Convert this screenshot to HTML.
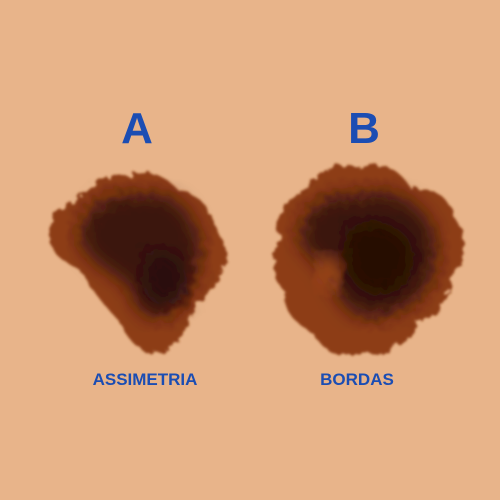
<!DOCTYPE html>
<html><head><meta charset="utf-8"><style>
html,body{margin:0;padding:0;background:#E8B48A;}
svg{display:block}
text{font-family:"Liberation Sans",sans-serif;fill:#1b4db3;font-weight:bold}
</style></head><body>
<svg width="500" height="500" viewBox="0 0 500 500">
<defs>
<filter id="fz" x="-20%" y="-20%" width="140%" height="140%">
<feTurbulence type="fractalNoise" baseFrequency="0.12" numOctaves="2" seed="3" result="n"/>
<feDisplacementMap in="SourceGraphic" in2="n" scale="10"/>
<feGaussianBlur stdDeviation="1.2"/>
</filter>
<filter id="bl"><feGaussianBlur stdDeviation="9"/></filter>
</defs>
<rect width="500" height="500" fill="#E8B48A"/>
<text x="137" y="143" font-size="44" text-anchor="middle">A</text>
<text x="364" y="143" font-size="44" text-anchor="middle">B</text>
<g filter="url(#fz)">
<path d="M50,238 C45,222 62,205 78,200 C90,180 110,172 130,176 C145,168 165,175 178,190 C195,192 210,205 212,222 C222,235 232,255 222,272 C216,290 200,300 192,312 C188,330 175,350 158,352 C140,355 128,340 118,320 C105,305 90,290 82,272 C68,262 48,255 50,238 Z" fill="#8d3d16"/>
<path d="M80,230 C85,205 110,190 135,195 C158,188 182,198 192,220 C205,240 202,265 190,285 C182,305 170,320 155,318 C138,315 132,298 128,285 C115,275 100,268 92,258 C82,250 78,240 80,230 Z" fill="#3a170b" filter="url(#bl)"/>
<path d="M150,250 C165,245 185,255 188,275 C190,295 175,308 160,305 C145,300 140,285 142,270 Z" fill="#2a1008" filter="url(#bl)"/>
</g>
<g filter="url(#fz)">
<path d="M280,238 C272,215 288,195 308,190 C315,170 340,160 360,168 C380,160 402,170 410,188 C430,185 452,198 455,218 C468,235 465,262 452,278 C450,300 435,318 418,322 C410,342 385,358 362,352 C345,360 322,352 315,335 C298,325 280,310 285,292 C272,278 270,255 280,238 Z" fill="#8d3d16"/>
<path d="M300,230 C305,205 330,190 355,195 C380,185 410,195 425,215 C440,235 440,262 428,285 C415,305 395,315 375,318 C355,320 342,305 335,290 C325,275 320,262 310,255 C300,248 298,240 300,230 Z" fill="#3a170b" filter="url(#bl)"/>
<path d="M345,230 C365,215 400,220 412,245 C420,268 405,290 385,295 C365,298 350,285 345,265 Z" fill="#261006" filter="url(#bl)"/>
<path d="M318,255 C330,250 345,262 342,278 C338,292 325,295 316,285 Z" fill="#a14a1c" filter="url(#bl)"/>
</g>
<text x="145" y="385" font-size="17" text-anchor="middle">ASSIMETRIA</text>
<text x="357" y="385" font-size="17" text-anchor="middle">BORDAS</text>
</svg>
</body></html>
